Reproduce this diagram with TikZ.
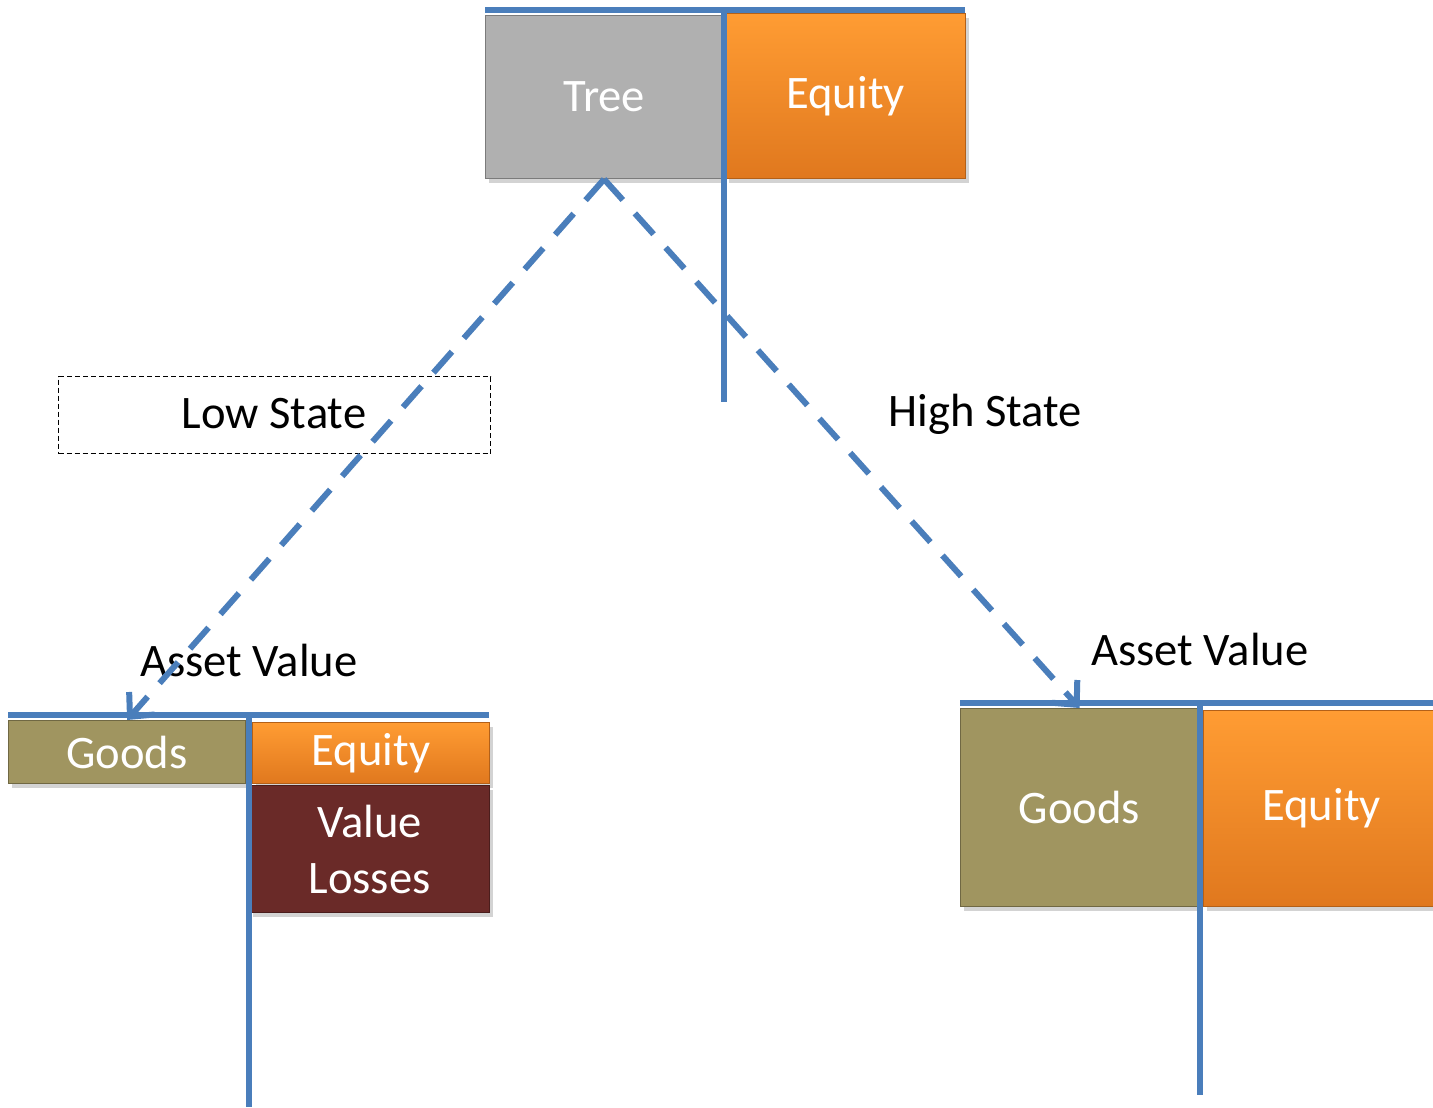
\documentclass[tikz,border=0pt]{standalone}
\usepackage{fontspec}
\setmainfont{Carlito}
\usetikzlibrary{arrows.meta,shadows}
\definecolor{lineblue}{HTML}{4A7EBB}
\definecolor{orangetop}{HTML}{FF9C33}
\definecolor{orangebot}{HTML}{E0781E}
\definecolor{treegray}{HTML}{B0B0B0}
\definecolor{olive}{HTML}{A09560}
\definecolor{lossred}{HTML}{6A2A28}
\tikzset{
  box/.style={draw=black!45, line width=0.6pt, text=white, font=\fontsize{23.3}{28}\selectfont, inner sep=0pt,
    anchor=north west, align=center,
    drop shadow={shadow xshift=1.5pt, shadow yshift=-2pt, opacity=0.35}},
  orangebox/.style={box, draw=orangebot!80!black, top color=orangetop, bottom color=orangebot},
  tline/.style={draw=lineblue, line width=3pt},
  dasharrow/.style={draw=lineblue, line width=3pt, dash pattern=on 14pt off 9pt,
    -{Straight Barb[length=9pt,width=17pt,line width=3pt]}},
  lbl/.style={font=\fontsize{23.3}{28}\selectfont, text=black, inner sep=0pt}
}
\begin{document}
\begin{tikzpicture}[x=0.5pt,y=-0.5pt]
\useasboundingbox (0,0) rectangle (1433,1107);
% top T-account
\node[box, fill=treegray, draw=treegray!70!black, minimum width=118.5pt, minimum height=81.5pt] (tree) at (485,15) {Tree};
\node[orangebox, minimum width=120pt, minimum height=82.5pt] (eqT) at (725,13) {Equity};
\draw[tline] (485,10) -- (965,10);
\draw[tline] (724,10) -- (724,402);
% left lower T-account
\node[box, fill=olive, draw=olive!70!black, minimum width=118.5pt, minimum height=31.5pt] (goodsL) at (8,720) {Goods};
\node[orangebox, minimum width=118.5pt, minimum height=30.5pt] (eqL) at (252,722) {Equity};
\node[box, fill=lossred, draw=lossred!70!black, minimum width=120pt, minimum height=63.5pt] (loss) at (249,785) {Value\\Losses};
\draw[tline] (8,715) -- (489,715);
\draw[tline] (249,715) -- (249,1107);
% right lower T-account
\node[box, fill=olive, draw=olive!70!black, minimum width=119pt, minimum height=99pt] (goodsR) at (960,708) {Goods};
\node[orangebox, minimum width=118pt, minimum height=98pt] (eqR) at (1203,710) {Equity};
\draw[tline] (960,703) -- (1433,703);
\draw[tline] (1200,703) -- (1200,1095);
% labels
\node[lbl, draw=black, line width=0.6pt, dash pattern=on 2.5pt off 1.5pt, minimum width=216pt, minimum height=38.5pt, anchor=north west] (low) at (58,376) {};
\node[lbl] (lowtxt) at (274,414) {Low State};
\node[lbl] (high) at (985,414) {High State};
\node[lbl] (avL) at (249,660) {Asset Value};
\node[lbl] (avR) at (1200,649) {Asset Value};
% dashed connectors
\draw[dasharrow] (tree.south) -- (goodsL.north);
\draw[dasharrow] (tree.south) -- (goodsR.north);
\end{tikzpicture}
\end{document}
